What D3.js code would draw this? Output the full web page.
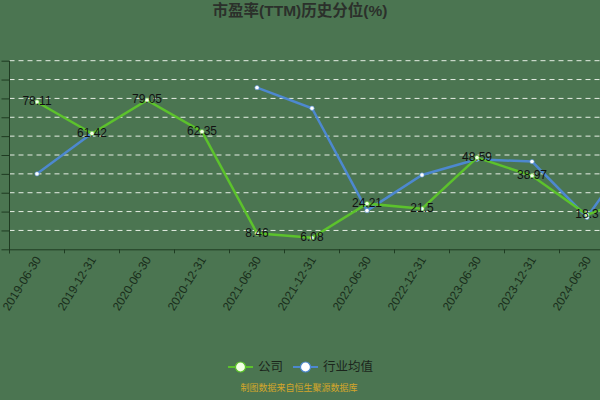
<!DOCTYPE html>
<html>
<head>
<meta charset="utf-8">
<script src="https://cdn.jsdelivr.net/npm/d3@7"></script>
<style>
  html, body { margin: 0; padding: 0; background: #4b7551; overflow: hidden; }
  svg { display: block; font-family: 'Liberation Sans', 'Noto Sans CJK SC', sans-serif; }
</style>
</head>
<body>
<svg id="vis"></svg>
<script>
const plotWidth = 600;
const plotHeight = 400;

// report dates (last one sits off the right edge, only its line segment shows)
const dates = ['2019-06-30', '2019-12-31', '2020-06-30', '2020-12-31', '2021-06-30', '2021-12-31',
               '2022-06-30', '2022-12-31', '2023-06-30', '2023-12-31', '2024-06-30', '2024-12-31'];
const company = [78.11, 61.42, 79.05, 62.35, 8.46, 6.08, 24.21, 21.5, 48.59, 38.97, 18.3, 29];
const industry = [40.0, 61.5, null, null, 85.7, 74.8, 20.5, 39.4, 47.7, 46.5, 17.0, 58];
const yTicks = [0, 10, 20, 30, 40, 50, 60, 70, 80, 90, 100];
const seriesNames = ['公司', '行业均值'];

const green = '#5cc22c';
const blue = '#4d88cf';

const svg = d3.select('#vis')
    .attr('width', plotWidth)
    .attr('height', plotHeight);

const plotLeft = 9.5;
const plotBottom = 249.3;
const plotTop = 60.7;

const x = d3.scaleBand()
    .domain(dates)
    .range([plotLeft, plotLeft + 55 * dates.length]);
const y = d3.scaleLinear()
    .domain([0, 100])
    .range([plotBottom, plotTop]);

const cx = d => x(d) + x.bandwidth() / 2;
// only the categories whose centre is inside the picture get texts
const shown = d => cx(d) < plotWidth;

function main() {
    drawTitle();
    drawGrid();
    drawAxes();
    drawSeries(industry, blue, '#ffffff');
    drawSeries(company, green, '#f3ffe6');
    drawLabels();
    drawLegend();
}

function drawTitle() {
    svg.append('text')
        .attr('x', 300)
        .attr('y', 16)
        .attr('text-anchor', 'middle')
        .style('font-size', '15.5px')
        .style('font-weight', 'bold')
        .style('fill', '#2b302b')
        .text('市盈率(TTM)历史分位(%)');
}

function drawGrid() {
    svg.append('g')
        .selectAll('line')
        .data(yTicks.filter(d => d > 0))
        .enter()
        .append('line')
        .attr('x1', plotLeft)
        .attr('x2', plotWidth)
        .attr('y1', d => y(d))
        .attr('y2', d => y(d))
        .style('stroke', '#e6eee4')
        .style('stroke-width', 1)
        .style('stroke-dasharray', '5,4');
}

function drawAxes() {
    const xAxis = svg.append('g')
        .attr('transform', `translate(0,${plotBottom})`)
        .call(d3.axisBottom(x).tickSize(0).tickFormat(''));
    xAxis.select('.domain').style('stroke', '#1f3b22');

    // tick marks sit on band edges
    svg.append('g')
        .selectAll('line')
        .data(dates)
        .enter()
        .append('line')
        .attr('x1', d => x(d))
        .attr('x2', d => x(d))
        .attr('y1', plotBottom)
        .attr('y2', plotBottom + 4)
        .style('stroke', '#1f3b22');

    svg.append('g')
        .selectAll('text')
        .data(dates.filter(shown))
        .enter()
        .append('text')
        .attr('transform', d => `translate(${cx(d) + 1},${plotBottom + 8}) rotate(-58)`)
        .attr('text-anchor', 'end')
        .attr('dy', '0.35em')
        .style('font-size', '12px')
        .style('fill', '#1a2e1c')
        .text(d => d);

    const yAxis = svg.append('g')
        .attr('transform', `translate(${plotLeft},0)`)
        .call(d3.axisLeft(y).tickValues(yTicks).tickSize(8).tickFormat(''));
    yAxis.select('.domain').style('stroke', '#1f3b22').attr('d', `M0,${plotTop}V${plotBottom + 4}`);
    yAxis.selectAll('.tick line').style('stroke', '#1f3b22');
}

function drawSeries(values, color, fill) {
    const pts = dates.map((d, i) => ({date: d, value: values[i]}));
    const line = d3.line()
        .defined(d => d.value !== null)
        .x(d => cx(d.date))
        .y(d => y(d.value));
    svg.append('path')
        .datum(pts)
        .attr('d', line)
        .style('fill', 'none')
        .style('stroke', color)
        .style('stroke-width', 2.5);
    svg.append('g')
        .selectAll('circle')
        .data(pts.filter(d => d.value !== null))
        .enter()
        .append('circle')
        .attr('cx', d => cx(d.date))
        .attr('cy', d => y(d.value))
        .attr('r', 2.2)
        .style('fill', fill)
        .style('stroke', color)
        .style('stroke-width', 0.6);
}

function drawLabels() {
    svg.append('g')
        .selectAll('text')
        .data(dates.map((d, i) => ({date: d, value: company[i]})).filter(d => shown(d.date)))
        .enter()
        .append('text')
        .attr('x', d => cx(d.date))
        .attr('y', d => y(d.value) - 1)
        .attr('dy', '0.35em')
        .attr('text-anchor', 'middle')
        .style('font-size', '12px')
        .style('fill', '#111')
        .text(d => d.value);
}

function drawLegend() {
    const items = [
        {name: seriesNames[0], color: green, fill: '#f3ffe6', x0: 228, tx: 258},
        {name: seriesNames[1], color: blue, fill: '#ffffff', x0: 293, tx: 323}
    ];
    const g = svg.append('g');
    items.forEach(it => {
        g.append('line')
            .attr('x1', it.x0).attr('x2', it.x0 + 25)
            .attr('y1', 367).attr('y2', 367)
            .style('stroke', it.color)
            .style('stroke-width', 2);
        g.append('circle')
            .attr('cx', it.x0 + 12.5).attr('cy', 367).attr('r', 5)
            .style('fill', it.fill)
            .style('stroke', it.color)
            .style('stroke-width', 1.2);
        g.append('text')
            .attr('x', it.tx).attr('y', 367)
            .attr('dy', '0.35em')
            .style('font-size', '12.5px')
            .style('fill', '#1b251c')
            .text(it.name);
    });

    svg.append('text')
        .attr('x', 299)
        .attr('y', 391)
        .attr('text-anchor', 'middle')
        .style('font-size', '9px')
        .style('fill', '#d4a62a')
        .text('制图数据来自恒生聚源数据库');
}

main()
</script>
</body>
</html>
